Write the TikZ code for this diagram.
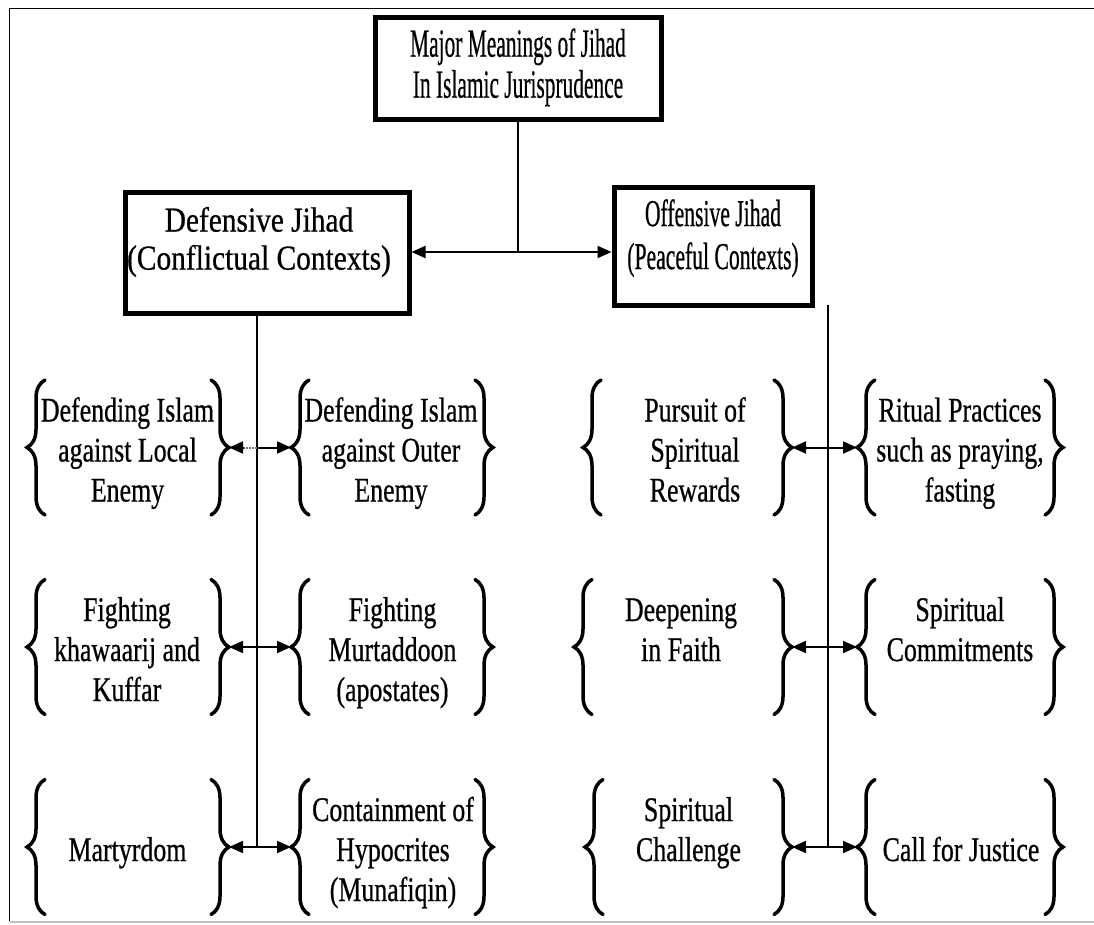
\documentclass[tikz,border=0pt]{standalone}
\usepackage{fontspec}
\setmainfont{Liberation Serif}[FakeBold=0.7]
\usepackage{graphicx}
\usetikzlibrary{arrows.meta,decorations.pathreplacing}
\newcommand{\sqz}[2]{\scalebox{#1}[1]{\begin{tabular}{@{}c@{}}#2\end{tabular}}}
\begin{document}
\begin{tikzpicture}[x=1pt,y=-1pt,
  headbox/.style={draw, line width=5pt, inner sep=0pt},
  frame/.style={inner sep=0pt, outer sep=0pt, minimum height=135pt},
  itxt/.style={inner sep=0pt, font=\fontsize{34.5}{40}\selectfont},
  conn/.style={line width=2pt},
  arr/.style={line width=2pt, -{Triangle[length=14pt,width=12pt]}},
  brc/.style={decorate, decoration={brace, amplitude=18pt}, line width=3.5pt, line cap=round}
]
\useasboundingbox (0,0) rectangle (1094,925);
% outer frame
\draw[line width=1.5pt] (1094,8.5) -- (9.5,8.5) -- (9.5,921);
\draw[line width=2pt, black!25] (9.5,921.5) -- (1094,921.5);

% heading boxes
\node[headbox, minimum width=286pt, minimum height=102pt] (top) at (518,69) {};
\node[inner sep=0pt, font=\fontsize{40}{41}\selectfont] (toptxt) at (518,69)
  {\sqz{0.535}{Major Meanings of Jihad\\In Islamic Jurisprudence}};
\node[headbox, minimum width=284pt, minimum height=120pt] (def) at (267,253) {};
\node[inner sep=0pt, font=\fontsize{35}{38}\selectfont] (deftxt) at (259,243)
  {\sqz{0.84}{Defensive Jihad\\(Conflictual Contexts)}};
\node[headbox, minimum width=198pt, minimum height=117pt] (off) at (713,246.5) {};
\node[inner sep=0pt, font=\fontsize{38}{43}\selectfont] (offtxt) at (713,239)
  {\sqz{0.57}{Offensive Jihad\\(Peaceful Contexts)}};

% top connectors
\coordinate (hub) at (518,252);
\draw[conn] (top.south) -- (hub);
\draw[arr] (hub) -- (hub -| def.east);
\draw[arr] (hub) -- (hub -| off.west);

% item frames
\node[frame, minimum width=202pt] (A1) at (128,447.5) {};
\node[frame, minimum width=202pt] (B1) at (392,447.5) {};
\node[frame, minimum width=209pt] (C1) at (687.5,447.5) {};
\node[frame, minimum width=206pt] (D1) at (960,447.5) {};
\node[frame, minimum width=202pt] (A2) at (128,647) {};
\node[frame, minimum width=202pt] (B2) at (392,647) {};
\node[frame, minimum width=218pt] (C2) at (683,647) {};
\node[frame, minimum width=206pt] (D2) at (960,647) {};
\node[frame, minimum width=202pt] (A3) at (128,847) {};
\node[frame, minimum width=202pt] (B3) at (392,847) {};
\node[frame, minimum width=207pt] (C3) at (688.5,847) {};
\node[frame, minimum width=206pt] (D3) at (960,847) {};

\foreach \n in {A1,B1,C1,D1,A2,B2,C2,D2,A3,B3,C3,D3}{
  \draw[brc] ([xshift=18pt]\n.south west) -- ([xshift=18pt]\n.north west);
  \draw[brc] ([xshift=-18pt]\n.north east) -- ([xshift=-18pt]\n.south east);
}

% item texts
\node[itxt] (tA1) at (127.5,453.5) {\sqz{0.75}{Defending Islam\\against Local\\Enemy}};
\node[itxt] (tB1) at (391,453.5) {\sqz{0.75}{Defending Islam\\against Outer\\Enemy}};
\node[itxt] (tC1) at (695,453.5) {\sqz{0.75}{Pursuit of\\Spiritual\\Rewards}};
\node[itxt] (tD1) at (960,453.5) {\sqz{0.75}{Ritual Practices\\such as praying,\\fasting}};
\node[itxt] (tA2) at (127,653) {\sqz{0.75}{Fighting\\khawaarij and\\Kuffar}};
\node[itxt] (tB2) at (392.5,653) {\sqz{0.75}{Fighting\\Murtaddoon\\(apostates)}};
\node[itxt] (tC2) at (681,653) {\sqz{0.75}{Deepening\\in Faith\\~}};
\node[itxt] (tD2) at (960,653) {\sqz{0.75}{Spiritual\\Commitments\\~}};
\node[itxt] (tA3) at (127.5,853) {\sqz{0.75}{~\\Martyrdom\\~}};
\node[itxt] (tB3) at (393,853) {\sqz{0.75}{Containment of\\Hypocrites\\(Munafiqin)}};
\node[itxt] (tC3) at (688.5,853) {\sqz{0.75}{Spiritual\\Challenge\\~}};
\node[itxt] (tD3) at (961,853) {\sqz{0.75}{~\\Call for Justice\\~}};

% stems
\coordinate (ls) at (257,847);
\coordinate (rs) at (828,847);
\draw[conn] ([yshift=3pt]ls |- def.south) -- (ls);
\draw[conn] ([yshift=3pt]rs |- off.south) -- (rs);

% row arrows
\draw[line width=2pt, densely dotted, black!55] (ls |- A1.east) -- ([xshift=10pt]A1.east);
\draw[arr] ([xshift=14pt]A1.east) -- (A1.east);
\draw[arr] (ls |- B1.west) -- (B1.west);
\draw[arr] (ls |- A2.east) -- (A2.east);
\draw[arr] (ls |- B2.west) -- (B2.west);
\draw[arr] (ls |- A3.east) -- (A3.east);
\draw[arr] (ls |- B3.west) -- (B3.west);
\draw[arr] (rs |- C1.east) -- (C1.east);
\draw[arr] (rs |- D1.west) -- (D1.west);
\draw[arr] (rs |- C2.east) -- (C2.east);
\draw[arr] (rs |- D2.west) -- (D2.west);
\draw[arr] (rs |- C3.east) -- (C3.east);
\draw[arr] (rs |- D3.west) -- (D3.west);
\end{tikzpicture}
\end{document}
